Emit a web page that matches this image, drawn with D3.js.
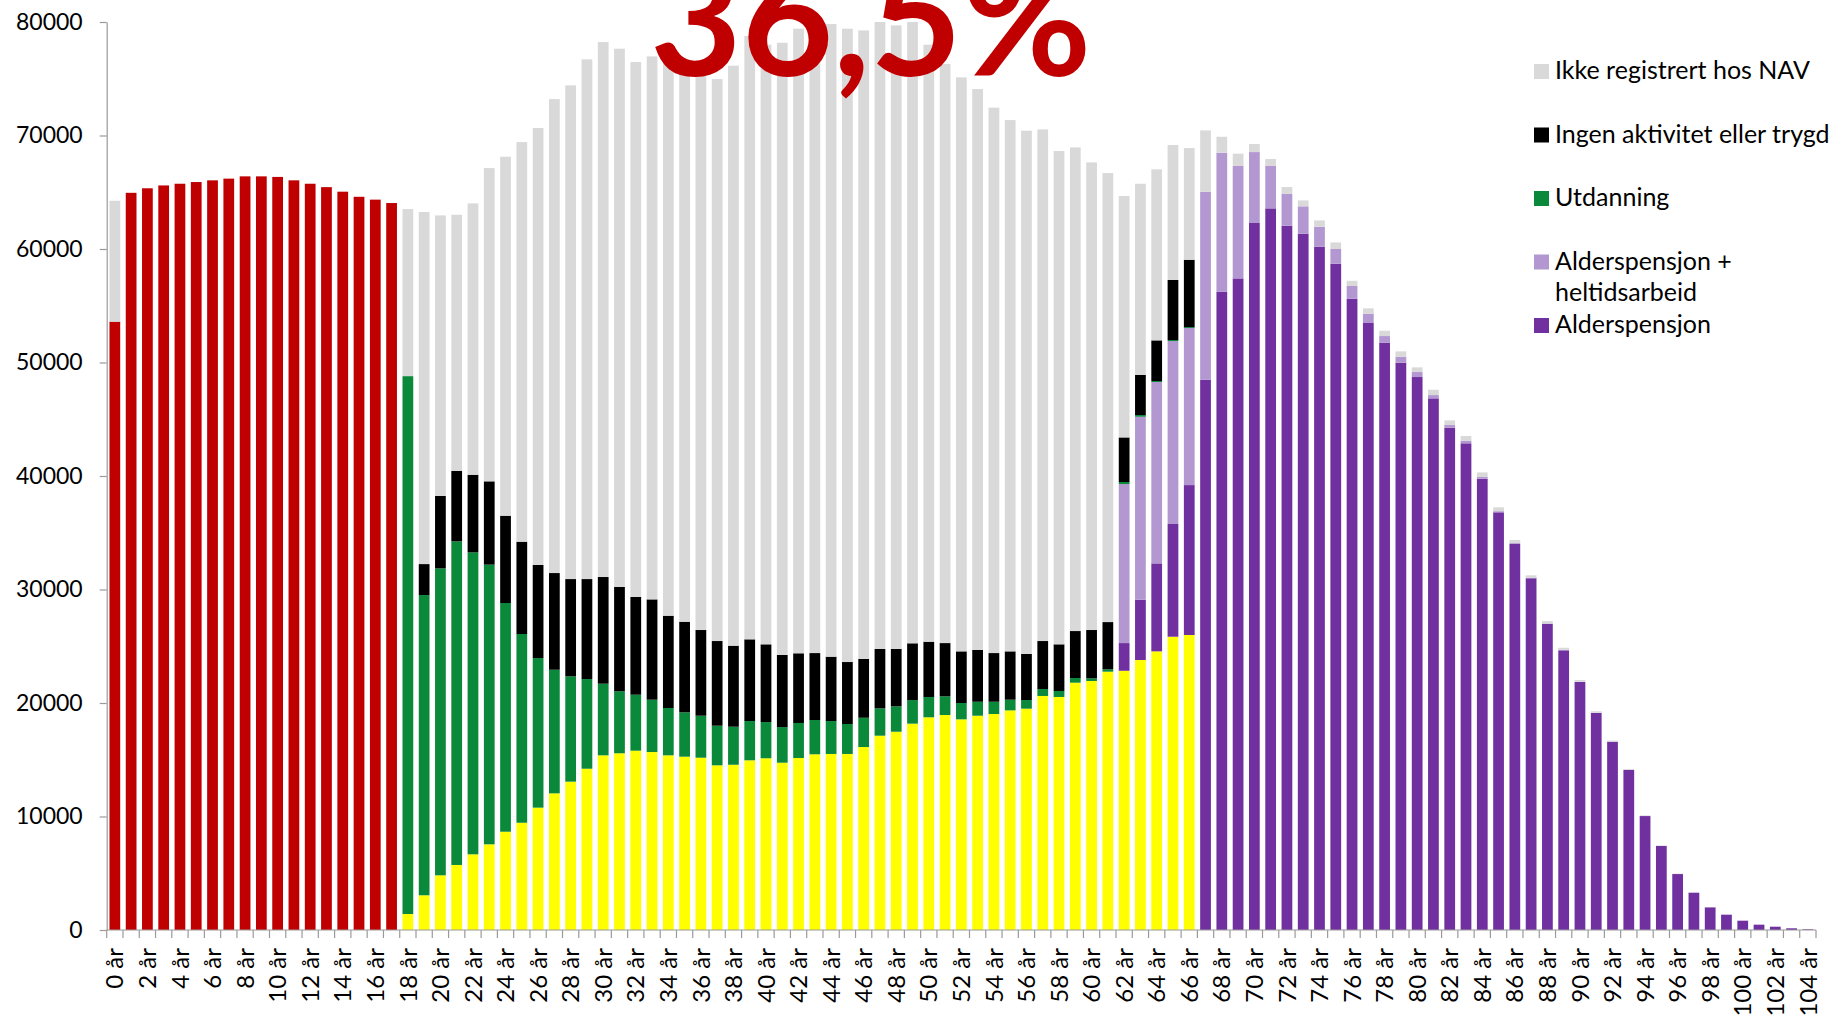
<!DOCTYPE html>
<html><head><meta charset="utf-8">
<script src="https://cdn.jsdelivr.net/npm/d3@7"></script>
<style>
html,body{margin:0;padding:0;background:#fff;overflow:hidden}
svg{display:block;background:#fff}
text{font-family:Lato,"Open Sans",sans-serif}
</style></head><body>
<svg id="chart" width="1829" height="1016"></svg>
<script>
// ---------- DATA ----------
const ages = [0,1,2,3,4,5,6,7,8,9,10,11,12,13,14,15,16,17,18,19,20,21,22,23,24,25,26,27,28,29,30,31,32,33,34,35,36,37,38,39,40,41,42,43,44,45,46,47,48,49,50,51,52,53,54,55,56,57,58,59,60,61,62,63,64,65,66,67,68,69,70,71,72,73,74,75,76,77,78,79,80,81,82,83,84,85,86,87,88,89,90,91,92,93,94,95,96,97,98,99,100,101,102,103,104];

// each series starts at the given age
const barnStart = 0;
const barn = [53600,64950,65350,65600,65750,65900,66050,66200,66400,66400,66350,66050,65750,65450,65050,64600,64350,64050];

const arbeidStart = 18;
const arbeid = [1410,3060,4820,5730,6670,7550,8660,9450,10780,12040,13070,14210,15390,15570,15800,15680,15390,15270,15180,14510,14560,14950,15130,14740,15150,15480,15510,15510,16120,17120,17470,18180,18740,18940,18560,18880,19030,19350,19500,20620,20530,21790,21940,22760,22840,23790,24550,25840,25990];

const alderspensjonStart = 62;
const alderspensjon = [2440,5310,7750,9930,13210,48480,56240,57410,62290,63580,62050,61350,60200,58700,55620,53480,51740,49980,48720,46840,44250,42880,39760,36800,34010,30990,26960,24640,21850,19120,16590,14100,10040,7400,4930,3290,2000,1350,820,470,290,150,60];

const apHeltidStart = 62;
const apHeltid = [14010,16120,15980,16120,13840,16560,12240,9930,6250,3760,2820,2410,1760,1300,1120,820,590,530,440,290,240,230,150,100,80,60,50,40,30,20];

const utdanningStart = 18;
const utdanning = [47390,26450,27040,28510,26600,24640,20150,16630,13180,10890,9280,7900,6310,5460,4930,4610,4170,3910,3700,3490,3350,3460,3190,3140,3090,3020,2900,2640,2580,2410,2240,2080,1790,1650,1440,1230,1080,940,760,610,530,410,230,210,180,150,90,90,80];

const ingenStart = 18;
const ingen = [0,2730,6380,6200,6840,7340,7690,8130,8200,8520,8570,8810,9400,9190,8610,8840,8130,7980,7550,7460,7140,7200,6850,6350,6140,5900,5670,5460,5180,5230,5050,5000,4870,4690,4550,4560,4290,4260,4060,4230,4110,4140,4260,4160,3930,3530,3580,5290,5930];

const ikkeStart = 0;
const ikke = [10650,0,0,0,0,0,0,0,0,0,0,0,0,0,0,0,0,0,14720,31020,24720,22580,23910,27600,31630,35210,38500,41760,43500,45790,47130,47430,47130,47840,48910,48640,48970,49510,51100,53150,52830,53940,55030,55100,55740,55800,55380,55240,54940,54740,52600,51020,50570,49420,48050,46810,46100,45080,43460,42610,41200,39560,21270,16850,15070,11890,9840,5410,1410,1060,710,590,590,520,560,580,460,470,470,470,410,470,410,410,410,340,270,200,210,190,150,130,100,80,60,50,40,30,20,10];

const yTicks = [0,10000,20000,30000,40000,50000,60000,70000,80000];
const xLabelAges = [0,2,4,6,8,10,12,14,16,18,20,22,24,26,28,30,32,34,36,38,40,42,44,46,48,50,52,54,56,58,60,62,64,66,68,70,72,74,76,78,80,82,84,86,88,90,92,94,96,98,100,102,104];
const headline = "36,5%";

const legendLabels = [["Ikke registrert hos NAV"],["Ingen aktivitet eller trygd"],["Utdanning"],["Alderspensjon +","heltidsarbeid"],["Alderspensjon"]];
const legendKeys = ["ikke","ingen","utdanning","apHeltid","alderspensjon"];

// ---------- SETUP ----------
const series = [
  {key:"barn", start:barnStart, values:barn, color:"#C00000"},
  {key:"arbeid", start:arbeidStart, values:arbeid, color:"#FFFF00"},
  {key:"alderspensjon", start:alderspensjonStart, values:alderspensjon, color:"#7030A0"},
  {key:"apHeltid", start:apHeltidStart, values:apHeltid, color:"#B397D0"},
  {key:"utdanning", start:utdanningStart, values:utdanning, color:"#0A893B"},
  {key:"ingen", start:ingenStart, values:ingen, color:"#000000"},
  {key:"ikke", start:ikkeStart, values:ikke, color:"#D9D9D9"}
];
const colorOf = Object.fromEntries(series.map(s => [s.key, s.color]));

const rows = ages.map(a => {
  const r = {age:a};
  series.forEach(s => { const i = a - s.start; r[s.key] = (i >= 0 && i < s.values.length) ? s.values[i] : 0; });
  return r;
});

const svg = d3.select("#chart");
const plotL = 106.7, plotR = 1816, plotT = 22, plotB = 930;

const x = d3.scaleBand().domain(ages).range([plotL, plotR]).paddingInner(0.34).paddingOuter(0.17);
const y = d3.scaleLinear().domain([0, 80000]).range([plotB, plotT]);

const stacked = d3.stack().keys(series.map(s => s.key))(rows);

// bars
svg.append("g").selectAll("g").data(stacked).join("g")
  .attr("fill", d => colorOf[d.key])
  .selectAll("rect").data(d => d.filter(p => p[1] - p[0] > 0)).join("rect")
  .attr("x", d => x(d.data.age))
  .attr("width", x.bandwidth())
  .attr("y", d => y(d[1]))
  .attr("height", d => y(d[0]) - y(d[1]));

// y axis
const yAxis = svg.append("g").attr("transform", `translate(${plotL},0)`)
  .call(d3.axisLeft(y).tickValues(yTicks).tickFormat(d3.format("d")).tickSize(7).tickSizeOuter(0).tickPadding(17));
yAxis.selectAll("path,line").attr("stroke", "#9a9a9a").attr("stroke-width", 1.2);
yAxis.selectAll("text").attr("font-size", 23).attr("fill", "#000").attr("font-family", "Lato");

// x axis baseline + boundary ticks
const gx = svg.append("g");
gx.append("line").attr("x1", plotL).attr("x2", plotR).attr("y1", plotB).attr("y2", plotB)
  .attr("stroke", "#9a9a9a").attr("stroke-width", 1.2);
const halfGap = (x.step() - x.bandwidth()) / 2;
const boundaries = ages.map(a => x(a) - halfGap).concat([x(ages[ages.length-1]) + x.bandwidth() + halfGap]);
gx.selectAll("line.tk").data(boundaries).join("line").attr("class","tk")
  .attr("x1", d => d).attr("x2", d => d).attr("y1", plotB).attr("y2", plotB + 8)
  .attr("stroke", "#9a9a9a").attr("stroke-width", 1.2);

const xAxis = svg.append("g").attr("transform", `translate(0,${plotB})`)
  .call(d3.axisBottom(x).tickValues(xLabelAges).tickFormat(d => d + " år").tickSize(0).tickPadding(0));
xAxis.select(".domain").remove();
xAxis.selectAll("text")
  .attr("font-size", 24).attr("fill", "#000").attr("font-family", "Lato")
  .attr("text-anchor", "end")
  .attr("transform", "translate(0,18) rotate(-90)")
  .attr("x", 0).attr("y", 0).attr("dy", "0.36em");

// headline
svg.append("text").text(headline)
  .attr("x", 650).attr("y", 76)
  .attr("font-size", 158).attr("font-weight", 700).attr("fill", "#C00000")
  .attr("font-family", "Lato");

// legend
const lg = svg.append("g");
legendKeys.forEach((k, i) => {
  const base = 79 + i * 63.5;
  lg.append("rect").attr("x", 1534).attr("y", base - 15).attr("width", 15).attr("height", 15).attr("fill", colorOf[k]);
  legendLabels[i].forEach((line, j) => {
    lg.append("text").text(line).attr("x", 1555).attr("y", base + j * 31.5)
      .attr("font-size", 25).attr("fill", "#000").attr("font-family", "Lato");
  });
});
</script>
</body></html>
